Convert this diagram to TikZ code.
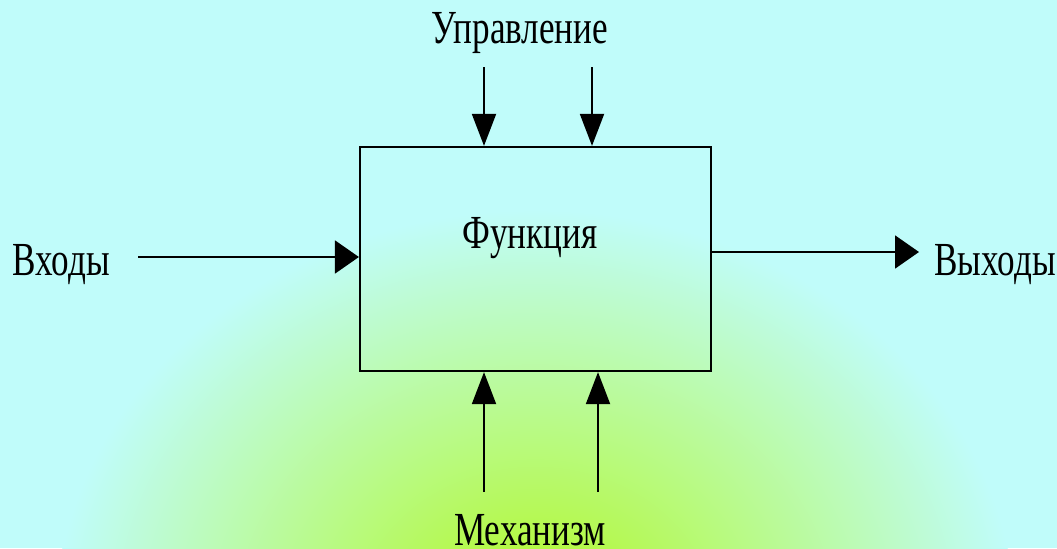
\documentclass[tikz,border=0pt]{standalone}
\usepackage{fontspec}
\newfontfamily\labelfont{Liberation Serif}
\usetikzlibrary{arrows.meta,positioning}
\definecolor{skycyan}{RGB}{192,252,250}
\definecolor{limeglow}{RGB}{178,248,30}

\begin{document}
\begin{tikzpicture}[x=0.02cm,y=-0.02cm,
		lbl/.style={font=\labelfont\fontsize{20}{20}\selectfont,yscale=1.35,inner sep=0pt,anchor=base},
		vflow/.style={line width=1.1pt,-{Triangle[width=0.48cm,length=0.64cm]}},
		hflow/.style={line width=1.1pt,-{Triangle[width=0.66cm,length=0.48cm]}}]
			% background with the glow from below
			\fill[skycyan] (0,0) rectangle (1057,548);
			\begin{scope}
				\clip (0,0) rectangle (1057,548);
				\shade[inner color=limeglow,outer color=skycyan] (535,620) ellipse [x radius=480,y radius=410];
			\end{scope}
			\useasboundingbox (0,0) rectangle (1057,548);
			% function block
			\node (func) [draw,line width=1.3pt,inner sep=0pt,minimum width=7.02cm,minimum height=4.48cm] at (535.5,259) {};
			\node (name) [lbl] at (530,248) {Функция};
			% labels
			\node (ctrl) [lbl] at (520,43) {Управление};
			\node (mech) [lbl] at (530,545) {Механизм};
			\node (inp) [lbl] at (61,275) {Входы};
			\node (outp) [lbl] at (995,275) {Выходы};
			% free ends of the arrows
			\coordinate (c1) at (484,67);
			\coordinate (c2) at (592,67);
			\coordinate (m1) at (484,492);
			\coordinate (m2) at (598,492);
			\coordinate (i1) at (138,257);
			\coordinate (o1) at (919,252);
			\foreach \c in {c1,c2}
				\draw[vflow] (\c) -- (\c |- func.north);
			\foreach \m in {m1,m2}
				\draw[vflow] (\m) -- (\m |- func.south);
			\draw[hflow] (i1) -- (i1 -| func.west);
			\draw[hflow] (o1 -| func.east) -- (o1);
		\end{tikzpicture}
\end{document}
